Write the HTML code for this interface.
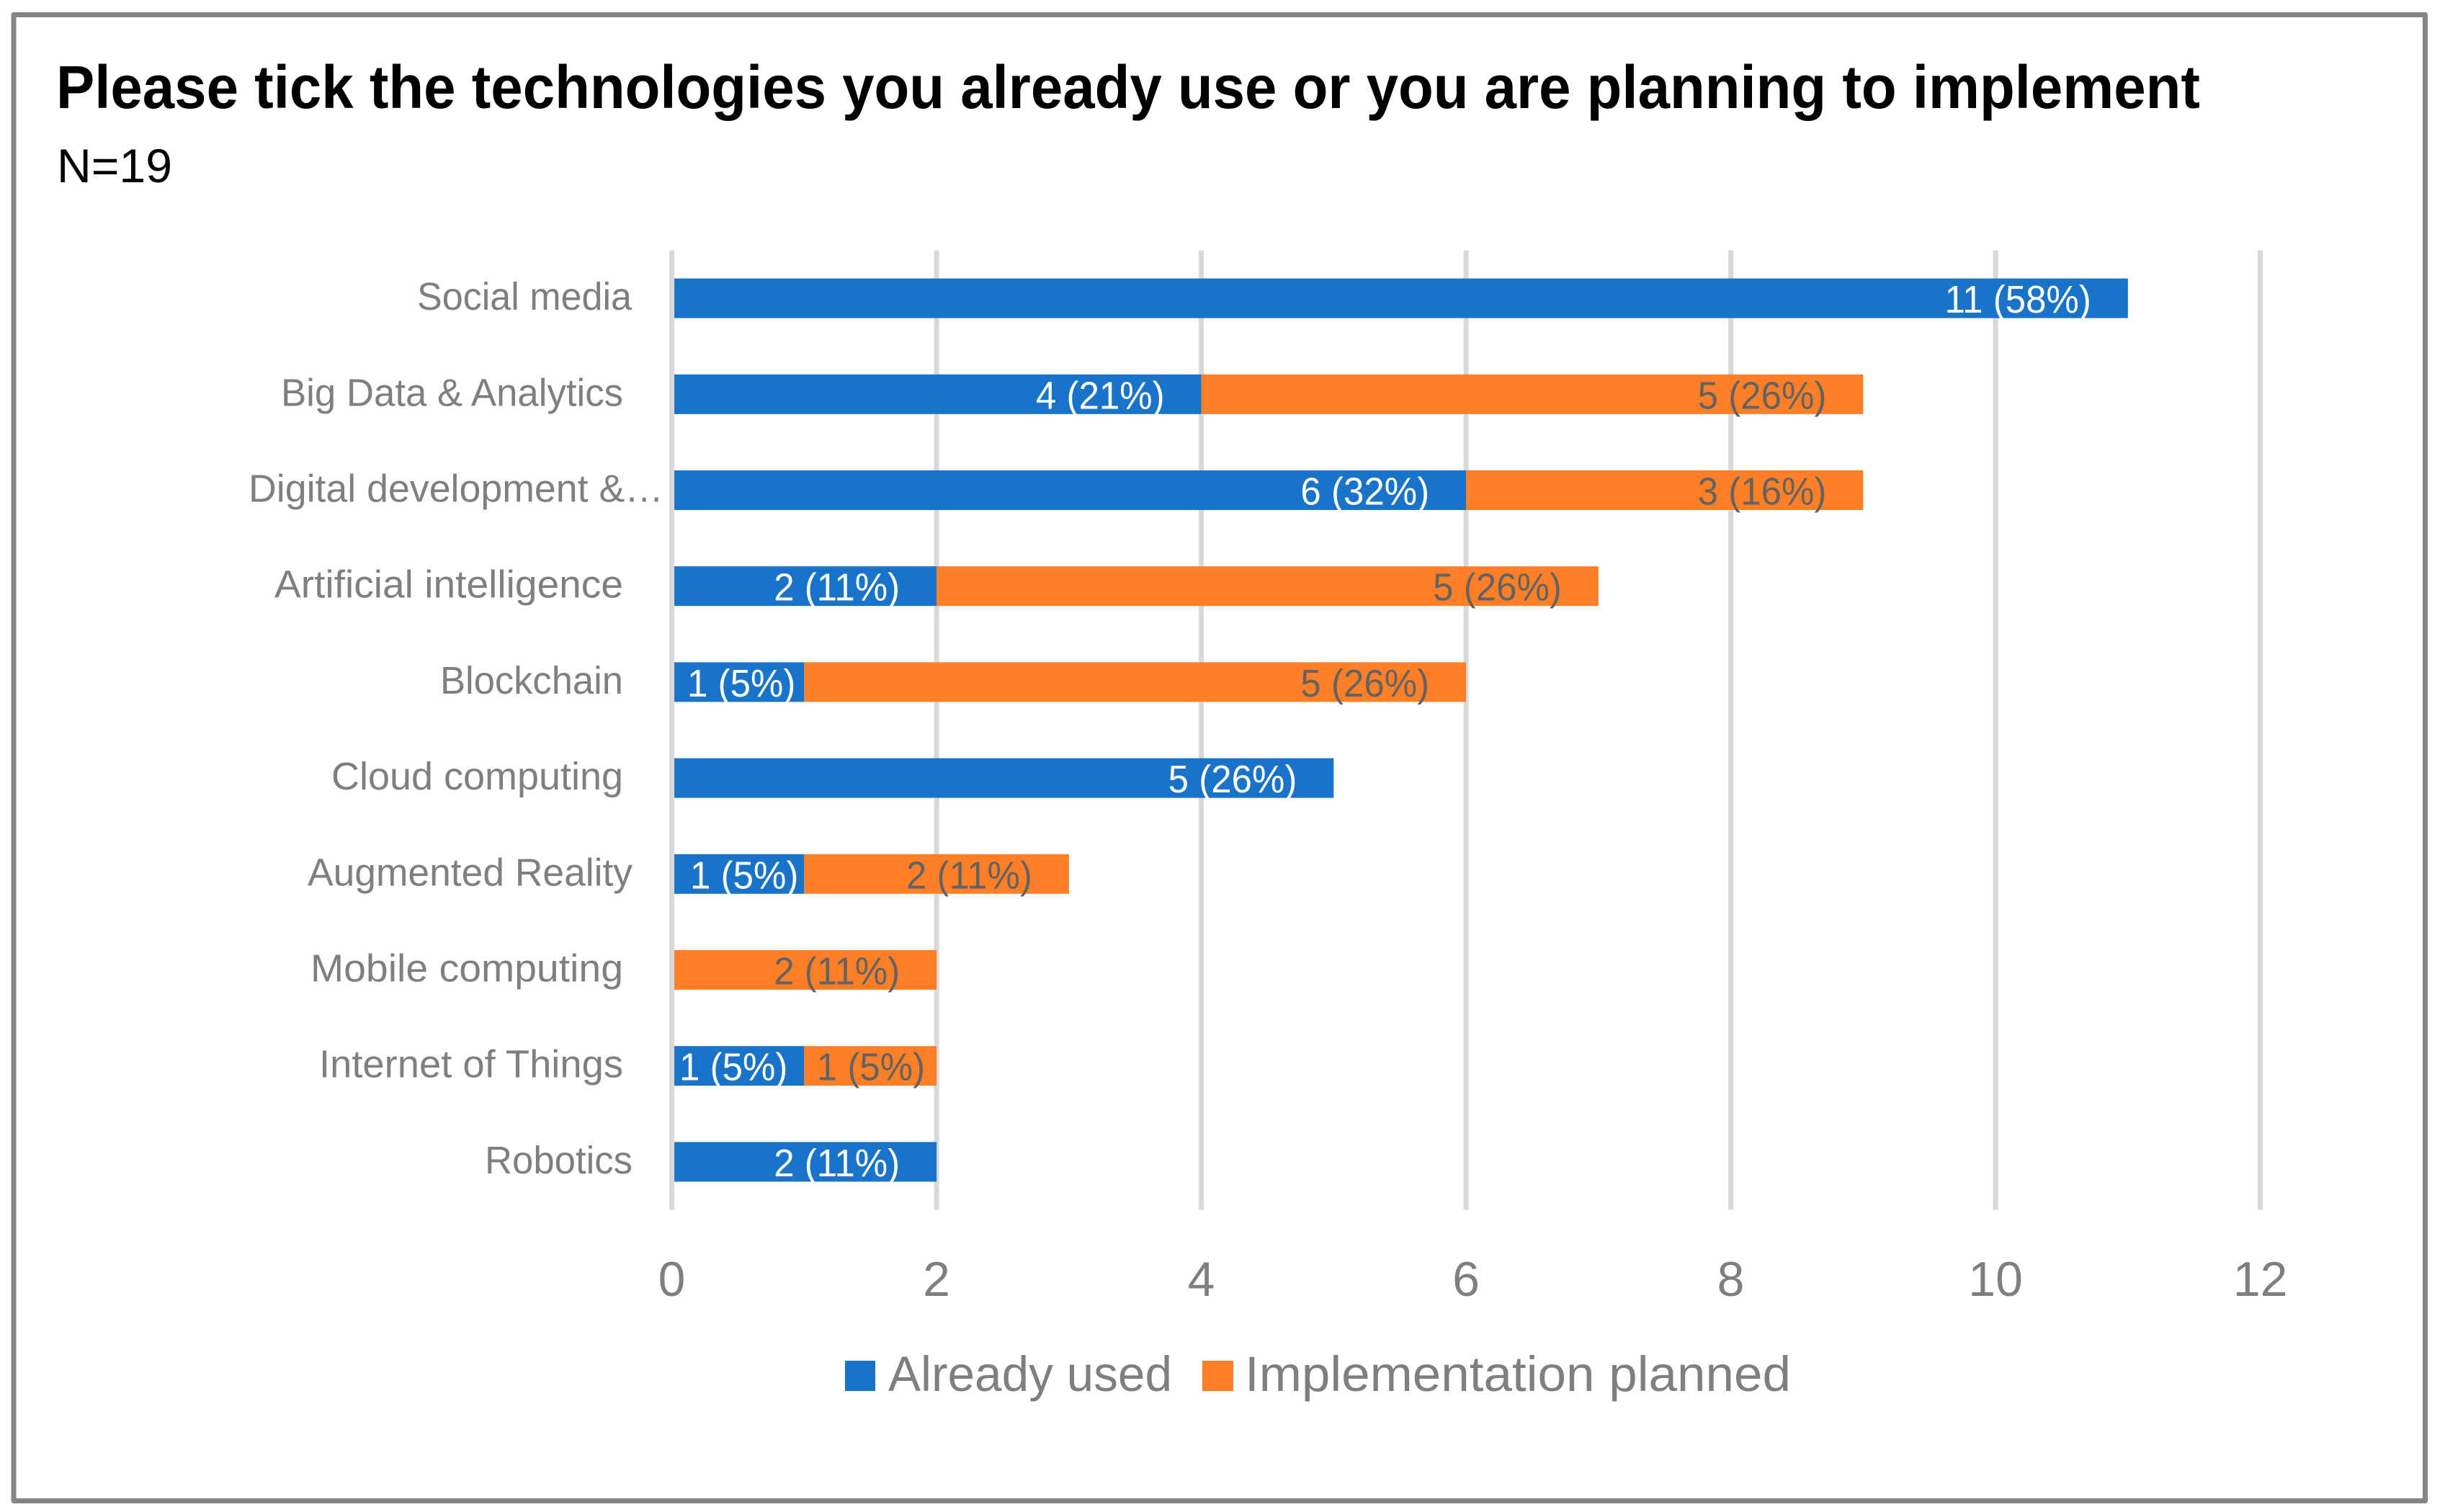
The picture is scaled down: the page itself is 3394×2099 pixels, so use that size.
<!DOCTYPE html>
<html lang="en">
<head>
<meta charset="utf-8">
<title>Please tick the technologies you already use or you are planning to implement</title>
<style>
  html, body { margin: 0; padding: 0; background: #ffffff; }
  svg { display: block; font-family: "Liberation Sans", sans-serif; }
  .cat { font-size: 54px; fill: #7f7f7f; }
  .tick { font-size: 68px; fill: #7f7f7f; text-anchor: middle; }
  .dl { font-size: 54px; }
  .legend-text { font-size: 69px; fill: #7f7f7f; }
</style>
</head>
<body>
<svg id="chart" xmlns="http://www.w3.org/2000/svg" width="3394" height="2099" viewBox="0 0 3394 2099">
  <rect x="0" y="0" width="3394" height="2099" fill="#ffffff"/>
  <rect x="19" y="20.5" width="3347.5" height="2063" fill="none" stroke="#848484" stroke-width="7" stroke-linejoin="round"/>
  <text x="78" y="150" font-size="84" font-weight="700" fill="#000000" textLength="2976" lengthAdjust="spacingAndGlyphs">Please tick the technologies you already use or you are planning to implement</text>
  <text x="79" y="253" font-size="66" fill="#000000" textLength="160" lengthAdjust="spacingAndGlyphs">N=19</text>
  <g id="grid"></g>
  <g id="bars"></g>
  <g id="zero"></g>
  <g id="labels"></g>
  <g id="cats"></g>
  <g id="ticks"></g>
  <g>
    <g>
      <rect x="1173" y="1889" width="42" height="42" fill="#1873C9"/>
      <text class="legend-text" x="1233" y="1931" textLength="394" lengthAdjust="spacingAndGlyphs">Already used</text>
    </g>
    <g>
      <rect x="1669" y="1889" width="43" height="42" fill="#FF7F27"/>
      <text class="legend-text" x="1728" y="1931" textLength="758" lengthAdjust="spacingAndGlyphs">Implementation planned</text>
    </g>
  </g>
</svg>
<script>
const categories = ['Social media', 'Big Data & Analytics', 'Digital development &…', 'Artificial intelligence', 'Blockchain', 'Cloud computing', 'Augmented Reality', 'Mobile computing', 'Internet of Things', 'Robotics'];
const alreadyUsed = [11, 4, 6, 2, 1, 5, 1, 0, 1, 2];
const implementationPlanned = [0, 5, 3, 5, 5, 0, 2, 2, 1, 0];
const valueTicks = [0, 2, 4, 6, 8, 10, 12];
const respondents = 19;

const NS = 'http://www.w3.org/2000/svg';
const plotLeft = 932.6, unit = 183.75, plotTop = 347.5, plotBottom = 1679.5;
const barHeight = 55;
const BLUE = '#1873C9', ORANGE = '#FF7F27';

function xAxis(v) { return plotLeft + v * unit; }
function yAxis(i) { return plotTop + (i + 0.5) * (plotBottom - plotTop) / categories.length; }
function slug(s) { return s.toLowerCase().replace(/[^a-z0-9]+/g, '-').replace(/^-|-$/g, ''); }

function make(parentId, tag, attrs, text) {
  const node = document.createElementNS(NS, tag);
  Object.keys(attrs).forEach(function (k) { node.setAttribute(k, attrs[k]); });
  if (text !== undefined) node.textContent = text;
  document.getElementById(parentId).appendChild(node);
  return node;
}

// condense Liberation glyphs to the narrower face of the reference
function fit(node, right, width) {
  const len = width !== undefined ? width : node.getComputedTextLength() * 0.945;
  node.setAttribute('x', right - len);
  node.setAttribute('textLength', len);
  node.setAttribute('lengthAdjust', 'spacingAndGlyphs');
}

valueTicks.forEach(function (t) {
  const parent = t === 0 ? 'zero' : 'grid';
  const line = make(parent, 'rect', { x: xAxis(t) - 3.5, y: plotTop, width: 7, height: plotBottom - plotTop, fill: '#D9D9D9' });
  
  
  const label = make('ticks', 'text', { class: 'tick', x: xAxis(t), y: 1799 }, String(t));
  
  
});

function drawSegment(i, start, value, color, seriesName, textColor, inset) {
  if (!value) return;
  const yc = yAxis(i);
  const bar = make('bars', 'rect', { x: xAxis(start), y: yc - barHeight / 2, width: value * unit, height: barHeight, fill: color });
  
  
  const pct = Math.round(value / respondents * 100);
  const label = make('labels', 'text', { class: 'dl', y: yc + 20, fill: textColor }, value + ' (' + pct + '%)');
  
  
  fit(label, xAxis(start + value) - inset);
}

function insetFor(name, series, value) {
  if (value > 1) return 51;
  if (name === 'Blockchain') return 12;
  if (name === 'Augmented Reality') return 8;
  if (name === 'Internet of Things') return series === 'already-used' ? 23 : 16;
  return 51;
}

categories.forEach(function (name, i) {
  drawSegment(i, 0, alreadyUsed[i], BLUE, 'already-used', '#FFFFFF', insetFor(name, 'already-used', alreadyUsed[i]));
  drawSegment(i, alreadyUsed[i], implementationPlanned[i], ORANGE, 'implementation-planned', '#636363', insetFor(name, 'implementation-planned', implementationPlanned[i]));
});

function categoryFit(name) {
  const fitBox = {
    'Social media': [877, 298],
    'Big Data & Analytics': [865, 475],
    'Digital development &…': [921, 576],
    'Artificial intelligence': [865, 484],
    'Blockchain': [865, 254],
    'Cloud computing': [865, 405],
    'Augmented Reality': [878, 451],
    'Mobile computing': [865, 434],
    'Internet of Things': [865, 422],
    'Robotics': [878, 205]
  };
  return fitBox[name];
}

categories.forEach(function (name, i) {
  const label = make('cats', 'text', { class: 'cat', y: yAxis(i) + 16 }, name);
  
  
  const box = categoryFit(name);
  fit(label, box[0], box[1]);
});
</script>
</body>
</html>
